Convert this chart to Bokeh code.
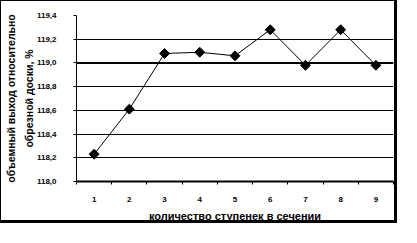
import math
from bokeh.plotting import figure
from bokeh.models import FixedTicker, CustomJSTickFormatter, Span, Range1d
from bokeh.embed import file_html
from bokeh.resources import INLINE

steps = [1, 2, 3, 4, 5, 6, 7, 8, 9]
yield_pct = [118.23, 118.61, 119.08, 119.09, 119.06, 119.28, 118.98, 119.28, 118.98]
y_ticks = [118.0, 118.2, 118.4, 118.6, 118.8, 119.0, 119.2, 119.4]
reference_level = 119.0
x_label = "количество ступенек в сечении"
y_label = "объемный выход относительно\nобрезной доски, %"

FONT = "Liberation Sans"

p = figure(width=397, height=223, output_backend="svg", toolbar_location=None,
           x_range=Range1d(0.5, 9.5), y_range=Range1d(118.0, 119.4),
           min_border_left=71, min_border_right=5, min_border_top=14, min_border_bottom=42)
p.styles = {"border-left": "1px solid black", "border-top": "1px solid black",
            "border-right": "3px solid black", "border-bottom": "3px solid black"}
p.outline_line_color = None
p.background_fill_color = "white"
p.border_fill_color = "white"

# grid
p.xgrid.visible = False
p.ygrid.ticker = FixedTicker(ticks=y_ticks)
p.ygrid.grid_line_color = "black"
p.ygrid.grid_line_width = 1

# axes
p.xaxis.ticker = FixedTicker(ticks=steps, minor_ticks=[s - 0.5 for s in steps] + [steps[-1] + 0.5])
p.xaxis.major_tick_out = 0
p.xaxis.major_tick_in = 0
p.xaxis.minor_tick_out = 3
p.xaxis.minor_tick_in = 0
p.xaxis.axis_line_width = 2
p.xaxis.minor_tick_line_color = "black"
p.xaxis.major_label_standoff = 12

p.yaxis.ticker = FixedTicker(ticks=y_ticks)
p.yaxis.formatter = CustomJSTickFormatter(code="return tick.toFixed(1).replace('.', ',');")
p.yaxis.major_tick_out = 3
p.yaxis.major_tick_in = 0
p.yaxis.minor_tick_out = 0
p.yaxis.minor_tick_in = 0
p.yaxis.major_label_standoff = 17

for ax in (p.xaxis[0], p.yaxis[0]):
    ax.axis_line_color = "black"
    ax.major_tick_line_color = "black"
    ax.major_label_text_font = FONT
    ax.major_label_text_font_style = "bold"
    ax.major_label_text_font_size = "8px"
    ax.major_label_text_color = "black"
    ax.axis_label_text_font = FONT
    ax.axis_label_text_font_style = "bold"
    ax.axis_label_text_color = "black"

p.xaxis.axis_label = x_label
p.xaxis.axis_label_text_font_size = "11px"
p.xaxis.axis_label_standoff = 5
p.yaxis.axis_label = y_label
p.yaxis.axis_label_text_font_size = "10.5px"
p.yaxis.axis_label_text_line_height = 1.5
p.yaxis.axis_label_standoff = -1

p.add_layout(Span(location=reference_level, dimension="width", line_color="black", line_width=2))

p.line(steps, yield_pct, line_color="black", line_width=1)
p.scatter(steps, yield_pct, marker="square", angle=math.pi / 4, size=7,
          fill_color="black", line_color="black")

open("out.html", "w").write(file_html(p, INLINE))
